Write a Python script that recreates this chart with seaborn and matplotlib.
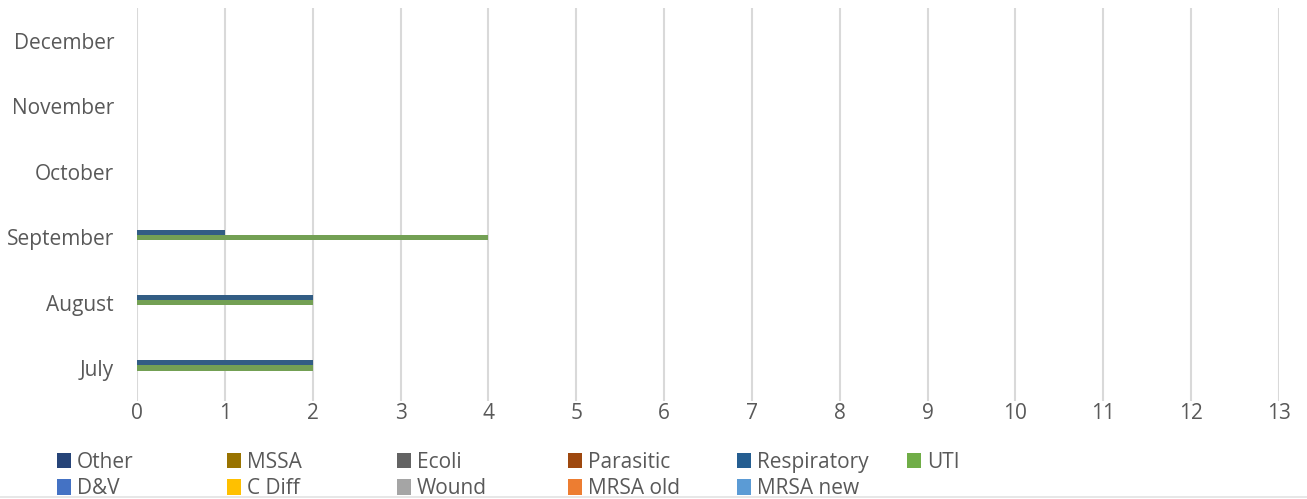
import pandas as pd
import numpy as np

import seaborn as sns
import matplotlib.pyplot as plt
from matplotlib.patches import Patch
from matplotlib.lines import Line2D

months = ['July', 'August', 'September', 'October', 'November', 'December']
series = ['Other', 'MSSA', 'Ecoli', 'Parasitic', 'Respiratory', 'UTI',
          'D&V', 'C Diff', 'Wound', 'MRSA old', 'MRSA new']
colors = ['#264478', '#997300', '#636363', '#9E480E', '#255E91', '#70AD47',
          '#4472C4', '#FFC000', '#A5A5A5', '#ED7D31', '#5B9BD5']

other = [0, 0, 0, 0, 0, 0]
mssa = [0, 0, 0, 0, 0, 0]
ecoli = [0, 0, 0, 0, 0, 0]
parasitic = [0, 0, 0, 0, 0, 0]
respiratory = [2, 2, 1, 0, 0, 0]
uti = [2, 2, 4, 0, 0, 0]
dv = [0, 0, 0, 0, 0, 0]
cdiff = [0, 0, 0, 0, 0, 0]
wound = [0, 0, 0, 0, 0, 0]
mrsa_old = [0, 0, 0, 0, 0, 0]
mrsa_new = [0, 0, 0, 0, 0, 0]

values = [other, mssa, ecoli, parasitic, respiratory, uti,
          dv, cdiff, wound, mrsa_old, mrsa_new]

rows = []
for name, vals in zip(series, values):
    for m, v in zip(months, vals):
        rows.append({'month': m, 'series': name, 'count': v})
df = pd.DataFrame(rows)

sns.set_style('white')
plt.rcParams['font.family'] = ['Open Sans', 'DejaVu Sans']
text_col = '#595959'

fig = plt.figure(figsize=(13.07, 4.99), dpi=100)
ax = fig.add_axes([137 / 1307, 1 - 400.7 / 499, (1279 - 137) / 1307, (400.7 - 8.3) / 499])

sns.barplot(data=df, y='month', x='count', hue='series', order=months[::-1],
            hue_order=series, palette=colors, width=0.85, gap=0,
            errorbar=None, linewidth=0, orient='h', ax=ax, legend=False, zorder=3)

ax.set_xlim(0, 13)
ax.set_xticks(range(0, 14))
ax.grid(axis='x', color='#d9d9d9', linewidth=1.5, zorder=0)
ax.set_axisbelow(True)
for s in ax.spines.values():
    s.set_visible(False)
ax.set_xlabel('')
ax.set_ylabel('')
ax.tick_params(axis='y', length=0, pad=16.5, labelsize=15, labelcolor=text_col)
ax.tick_params(axis='x', length=0, pad=2, labelsize=15, labelcolor=text_col)

# legend laid out in columns like the original
col_x = [57, 227, 397, 568, 737, 907]
for i, x in enumerate(col_x):
    idx = [j for j in (i, i + 6) if j < len(series)]
    handles = [Patch(facecolor=colors[j], edgecolor='none') for j in idx]
    labels = [series[j] for j in idx]
    fig.legend(handles, labels, loc='upper left',
               bbox_to_anchor=(x / 1307, 1 - 452 / 499), frameon=False,
               handlelength=0.67, handleheight=0.75, handletextpad=0.29,
               labelspacing=0.25, borderpad=0, borderaxespad=0,
               prop={'size': 15}, labelcolor=text_col)

# faint chart border at the bottom
fig.add_artist(Line2D([0, 1], [1 - 497 / 499] * 2, color='#e3e3e3', linewidth=1.2,
                      transform=fig.transFigure))

fig.savefig('out.png', dpi=100)
